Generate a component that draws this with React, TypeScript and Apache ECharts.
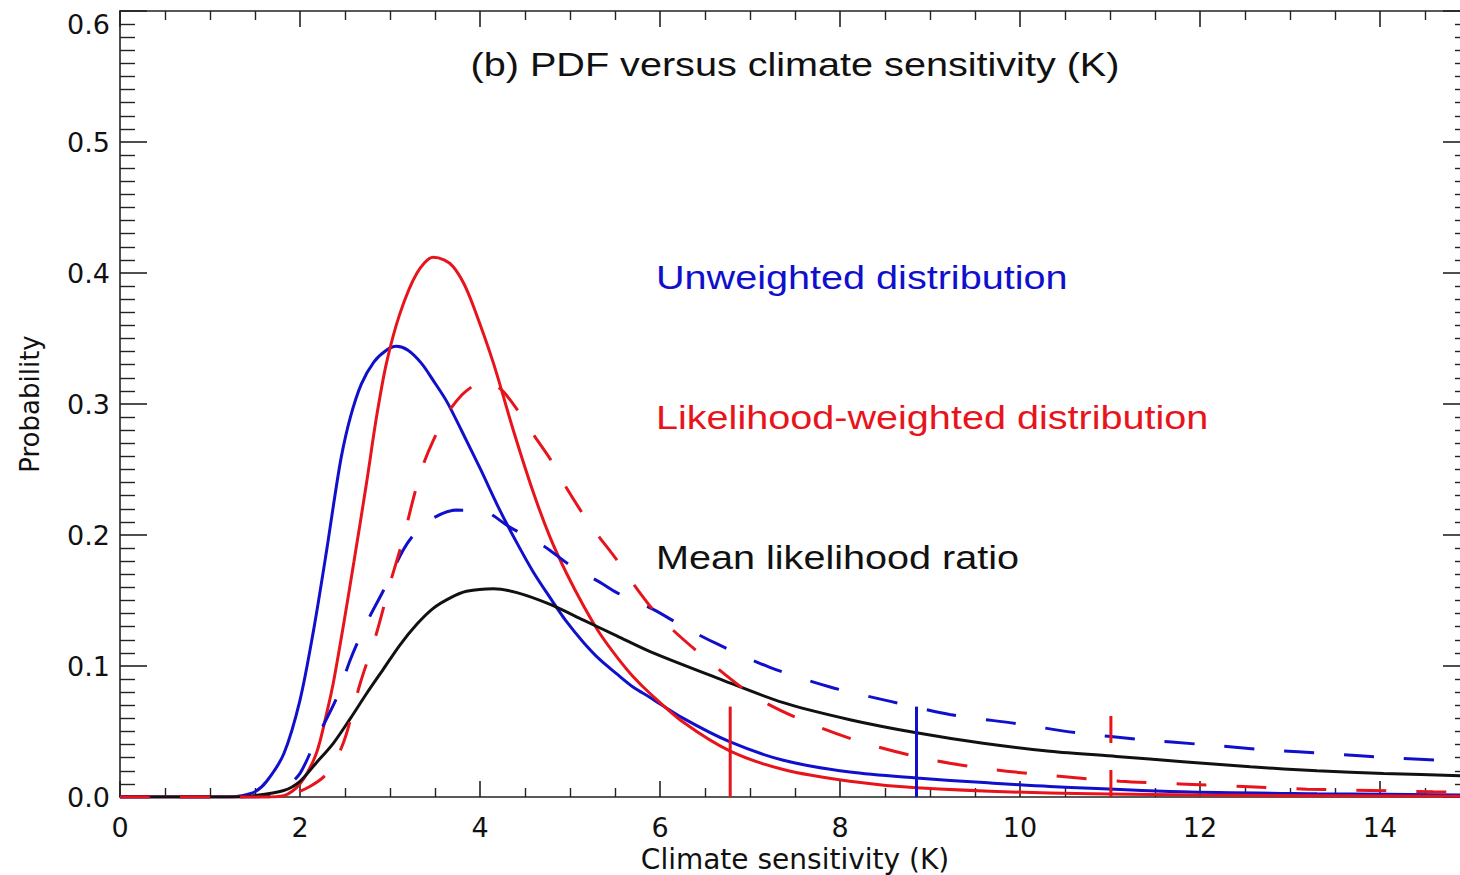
import React, { useEffect, useRef } from "react";
import * as echarts from "echarts";

// x: climate sensitivity (K), y: probability
const unweighted: [number, number][] = [
  [0, 0], [1.2, 0], [1.35, 0.001], [1.5, 0.004], [1.63, 0.012], [1.82, 0.033], [2.0, 0.074],
  [2.15, 0.127], [2.3, 0.19], [2.37, 0.222], [2.46, 0.26], [2.56, 0.29], [2.68, 0.315],
  [2.82, 0.332], [2.96, 0.341], [3.07, 0.344], [3.2, 0.341], [3.35, 0.331], [3.48, 0.318],
  [3.63, 0.302], [3.8, 0.279], [4.0, 0.251], [4.22, 0.219], [4.41, 0.194], [4.59, 0.172],
  [4.78, 0.152], [4.96, 0.134], [5.15, 0.118], [5.33, 0.105], [5.52, 0.094], [5.7, 0.084],
  [5.89, 0.076], [6.26, 0.06], [6.78, 0.042], [7.37, 0.028], [8.11, 0.019], [8.85, 0.0145],
  [9.6, 0.011], [10.33, 0.008], [11.8, 0.004], [13.3, 0.0025], [15, 0.0015],
];

const weighted: [number, number][] = [
  [0, 0], [1.6, 0], [1.82, 0.001], [2.0, 0.01], [2.18, 0.033], [2.3, 0.065], [2.37, 0.087],
  [2.48, 0.13], [2.6, 0.18], [2.74, 0.24], [2.85, 0.29], [2.96, 0.331], [3.11, 0.369],
  [3.3, 0.4], [3.48, 0.412], [3.6, 0.41], [3.7, 0.405], [3.82, 0.392], [3.93, 0.374],
  [4.15, 0.331], [4.37, 0.28], [4.59, 0.233], [4.78, 0.198], [4.96, 0.171], [5.15, 0.146],
  [5.33, 0.125], [5.52, 0.107], [5.7, 0.092], [5.89, 0.079], [6.26, 0.057], [6.78, 0.035],
  [7.37, 0.021], [8.11, 0.012], [8.85, 0.007], [10.33, 0.003], [12, 0.0015], [15, 0.0005],
];

const unweightedAlt: [number, number][] = [
  [0, 0], [1.5, 0], [1.7, 0.002], [1.85, 0.008], [2.0, 0.018], [2.18, 0.044], [2.41, 0.076],
  [2.56, 0.105], [2.74, 0.133], [2.93, 0.158], [3.15, 0.189], [3.3, 0.203], [3.48, 0.213],
  [3.74, 0.219], [4.04, 0.218], [4.33, 0.206], [4.7, 0.192], [5.0, 0.177], [5.33, 0.164],
  [5.52, 0.156], [5.93, 0.143], [6.26, 0.13], [6.63, 0.117], [7.22, 0.099], [7.89, 0.084],
  [8.56, 0.073], [9.22, 0.063], [9.96, 0.056], [10.63, 0.049], [11.33, 0.044], [12.04, 0.04],
  [12.74, 0.036], [13.44, 0.033], [14.11, 0.03], [15, 0.027],
];

const weightedAlt: [number, number][] = [
  [0, 0], [1.7, 0], [1.9, 0.002], [2.11, 0.008], [2.3, 0.018], [2.48, 0.041], [2.67, 0.087],
  [2.85, 0.125], [3.0, 0.163], [3.15, 0.198], [3.26, 0.228], [3.36, 0.252], [3.48, 0.272],
  [3.63, 0.292], [3.8, 0.307], [3.95, 0.315], [4.04, 0.317], [4.22, 0.312], [4.4, 0.297],
  [4.59, 0.277], [4.78, 0.258], [4.96, 0.236], [5.22, 0.208], [5.33, 0.198], [5.52, 0.181],
  [5.7, 0.163], [6.0, 0.137], [6.52, 0.105], [7.07, 0.076], [7.67, 0.056], [8.33, 0.04],
  [9.04, 0.028], [9.7, 0.021], [10.4, 0.016], [11.11, 0.012], [11.78, 0.01], [12.48, 0.008],
  [13.19, 0.006], [13.89, 0.005], [14.59, 0.004], [15, 0.0035],
];

const meanRatio: [number, number][] = [
  [0, 0], [1.3, 0], [1.44, 0.0005], [1.82, 0.005], [2.0, 0.012], [2.18, 0.026], [2.37, 0.041],
  [2.56, 0.06], [2.74, 0.079], [2.93, 0.098], [3.11, 0.116], [3.3, 0.132], [3.48, 0.144],
  [3.67, 0.152], [3.85, 0.157], [4.15, 0.159], [4.41, 0.156], [4.78, 0.147], [5.15, 0.135],
  [5.52, 0.123], [5.89, 0.111], [6.63, 0.091], [7.37, 0.072], [8.11, 0.059], [8.85, 0.049],
  [9.59, 0.041], [10.33, 0.035], [11.07, 0.031], [11.81, 0.027], [12.56, 0.023], [13.3, 0.02],
  [14.04, 0.018], [15, 0.016],
];

// 95th percentile markers
const markerWeighted: [number, number][] = [[6.78, 0], [6.78, 0.069]];
const markerUnweighted: [number, number][] = [[8.85, 0], [8.85, 0.069]];
const markerWeightedAlt: [number, number][] = [[11.01, 0], [11.01, 0.063]];

const xTicks = { min: 0, max: 15, interval: 2, lastLabel: 14 };
const yTicks = { min: 0, max: 0.6, interval: 0.1 };

const titleText = "(b) PDF versus climate sensitivity (K)";
const labelUnweighted = "Unweighted distribution";
const labelWeighted = "Likelihood-weighted distribution";
const labelMean = "Mean likelihood ratio";
const xName = "Climate sensitivity (K)";
const yName = "Probability";

const BLUE = "#1010cc";
const RED = "#e8141b";
const BLACK = "#111111";
const FONT = "'Liberation Sans', Arial, Helvetica, sans-serif";
const AXFONT = "'DejaVu Sans', 'Liberation Sans', sans-serif";

export default function App() {
  const ref = useRef<HTMLDivElement>(null);
  useEffect(() => {
    document.body.style.margin = "0";
    const chart = echarts.init(ref.current!, null, { renderer: "svg" });
    const axisLine = { show: true, onZero: false, lineStyle: { color: "#222", width: 1.6 } };
    const xCommon = {
      type: "value",
      min: xTicks.min,
      max: xTicks.max,
      interval: xTicks.interval,
      axisLine,
      axisTick: { show: true, inside: true, length: 16, lineStyle: { color: "#222", width: 1.6 } },
      minorTick: { show: true, splitNumber: 4, length: 9, lineStyle: { color: "#222", width: 1.4 } },
      splitLine: { show: false },
      minorSplitLine: { show: false },
    };
    const yCommon = {
      type: "value",
      min: yTicks.min,
      max: yTicks.max,
      interval: yTicks.interval,
      axisLine,
      axisTick: { show: true, inside: true, length: 27, lineStyle: { color: "#222", width: 1.6 } },
      minorTick: { show: true, splitNumber: 10, length: 15, lineStyle: { color: "#222", width: 1.4 } },
      splitLine: { show: false },
      minorSplitLine: { show: false },
    };
    const line = (data: [number, number][], color: string, dashed: boolean, z: number) => ({
      type: "line",
      data,
      showSymbol: false,
      symbol: "none",
      smooth: 0.3,
      z,
      clip: true,
      lineStyle: { color, width: 3, type: dashed ? [30, 30] : "solid" },
      emphasis: { disabled: true },
    });
    const marker = (data: [number, number][], color: string, dashed: boolean) => ({
      type: "line",
      data,
      showSymbol: false,
      symbol: "none",
      z: 10,
      lineStyle: { color, width: 3, type: dashed ? [27, 27] : "solid" },
      emphasis: { disabled: true },
    });
    const txt = (text: string, x: number, y: number, fill: string, align: string) => ({
      type: "text",
      x,
      y,
      scaleX: 1.2,
      style: { text, fill, fontSize: 33, fontFamily: FONT, align, verticalAlign: "middle" },
    });
    chart.setOption({
      animation: false,
      backgroundColor: "#ffffff",
      grid: {
        left: 120,
        top: 11,
        width: 1350,
        height: 786,
        containLabel: false,
        outerBoundsMode: "none",
      },
      xAxis: [
        {
          ...xCommon,
          position: "bottom",
          name: xName,
          nameLocation: "middle",
          nameGap: 44,
          nameTextStyle: { fontSize: 28, color: BLACK, fontFamily: AXFONT },
          axisLabel: {
            show: true,
            fontSize: 27,
            color: BLACK,
            fontFamily: AXFONT,
            margin: 17,
            formatter: (v: number) => (v > xTicks.lastLabel ? "" : String(v)),
          },
        },
        { ...xCommon, position: "top", axisLabel: { show: false } },
      ],
      yAxis: [
        {
          ...yCommon,
          position: "left",
          name: yName,
          nameLocation: "middle",
          nameRotate: 90,
          nameGap: 77,
          nameTextStyle: { fontSize: 26, color: BLACK, fontFamily: AXFONT },
          axisLabel: {
            show: true,
            fontSize: 27,
            color: BLACK,
            fontFamily: AXFONT,
            margin: 10,
            verticalAlignMaxLabel: "top",
            formatter: (v: number) => v.toFixed(1),
          },
        },
        { ...yCommon, position: "right", axisLabel: { show: false } },
      ],
      series: [
        line(unweighted, BLUE, false, 3),
        line(weighted, RED, false, 4),
        line(unweightedAlt, BLUE, true, 5),
        line(meanRatio, BLACK, false, 6),
        line(weightedAlt, RED, true, 7),
        marker(markerWeighted, RED, false),
        marker(markerUnweighted, BLUE, false),
        marker(markerWeightedAlt, RED, true),
      ],
      graphic: [
        txt(titleText, 795, 65, BLACK, "center"),
        txt(labelUnweighted, 656, 278, BLUE, "left"),
        txt(labelWeighted, 656, 418, RED, "left"),
        txt(labelMean, 656, 558, BLACK, "left"),
      ],
    });
    return () => chart.dispose();
  }, []);
  return (
    <div style={{ position: "relative", width: 1460, height: 875, overflow: "hidden", background: "#ffffff" }}>
      <div ref={ref} style={{ width: 1460, height: 875 }} />
    </div>
  );
}
